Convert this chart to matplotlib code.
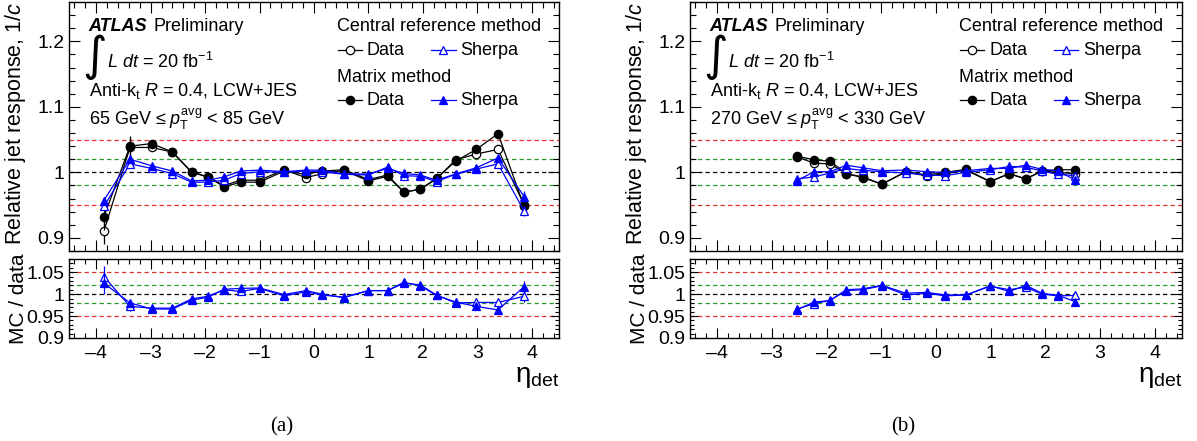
import numpy as np
import matplotlib
matplotlib.use('Agg')
import matplotlib.pyplot as plt
from matplotlib.ticker import MultipleLocator, FixedLocator, FuncFormatter

plt.rcParams['font.family'] = ['Liberation Sans', 'DejaVu Sans']
plt.rcParams['mathtext.fontset'] = 'custom'
plt.rcParams['mathtext.rm'] = 'Liberation Sans'
plt.rcParams['mathtext.it'] = 'Liberation Sans:italic'
plt.rcParams['mathtext.bf'] = 'Liberation Sans:bold'

# ---------------- data: panel (a) 65-85 GeV ----------------
eta_a = [-3.86, -3.38, -2.98, -2.60, -2.25, -1.95, -1.65, -1.35, -1.00, -0.55, -0.15,
         0.15, 0.55, 1.00, 1.35, 1.65, 1.95, 2.25, 2.60, 2.98, 3.38, 3.86]
data_mm_a = [0.932, 1.040, 1.044, 1.031, 1.001, 0.993, 0.978, 0.985, 0.985, 1.002, 0.997,
             1.002, 1.004, 0.989, 0.996, 0.970, 0.974, 0.991, 1.017, 1.035, 1.059, 0.948]
data_cr_a = [0.910, 1.038, 1.038, 1.031, 1.000, 0.993, 0.980, 0.988, 0.988, 1.004, 0.992,
             0.998, 1.003, 0.987, 0.994, 0.970, 0.974, 0.990, 1.019, 1.028, 1.035, 0.950]
mc_mm_a = [0.957, 1.020, 1.010, 1.002, 0.987, 0.988, 0.993, 1.002, 1.0035, 1.001, 1.0035,
           1.0035, 0.9975, 0.9975, 1.006, 0.9985, 0.996, 0.988, 0.9975, 1.007, 1.022, 0.963]
mc_cr_a = [0.948, 1.013, 1.006, 0.998, 0.985, 0.985, 0.988, 0.998, 1.001, 1.000, 1.002,
           1.001, 0.997, 0.996, 1.008, 0.995, 0.994, 0.986, 0.997, 1.005, 1.013, 0.941]
ratio_mm_a = [1.025, 0.980, 0.966, 0.966, 0.986, 0.993, 1.011, 1.013, 1.014, 0.999, 1.008,
              1.000, 0.992, 1.008, 1.008, 1.027, 1.019, 0.997, 0.982, 0.972, 0.964, 1.017]
ratio_cr_a = [1.040, 0.972, 0.968, 0.968, 0.989, 0.995, 1.010, 1.006, 1.013, 0.996, 1.005,
              0.998, 0.993, 1.008, 1.008, 1.025, 1.021, 0.998, 0.980, 0.981, 0.981, 0.995]
data_err_a = [0.020, 0.015, 0.004, 0.003, 0.002, 0.002, 0.002, 0.002, 0.002, 0.002, 0.002,
              0.002, 0.002, 0.002, 0.002, 0.002, 0.002, 0.002, 0.003, 0.004, 0.006, 0.013]
mc_err_a = [0.006, 0.004, 0.003, 0.002, 0.002, 0.002, 0.002, 0.002, 0.002, 0.002, 0.002,
            0.002, 0.002, 0.002, 0.002, 0.002, 0.002, 0.002, 0.002, 0.003, 0.004, 0.008]
ratio_err_a = [0.025, 0.010, 0.004, 0.003, 0.002, 0.002, 0.002, 0.002, 0.002, 0.002, 0.002,
               0.002, 0.002, 0.002, 0.002, 0.002, 0.002, 0.002, 0.003, 0.004, 0.008, 0.014]

# ---------------- data: panel (b) 270-330 GeV ----------------
eta_b = [-2.55, -2.23, -1.94, -1.64, -1.34, -0.99, -0.55, -0.16,
         0.16, 0.55, 0.99, 1.34, 1.64, 1.94, 2.23, 2.55]
data_mm_b = [1.025, 1.019, 1.017, 0.998, 0.993, 0.982, 1.001, 0.996,
             1.000, 1.0045, 0.986, 0.998, 0.990, 1.002, 1.004, 1.004]
data_cr_b = [1.024, 1.014, 1.013, 0.998, 0.992, 0.982, 1.001, 0.994,
             0.998, 1.003, 0.986, 0.998, 0.990, 1.002, 1.000, 0.998]
mc_mm_b = [0.987, 1.001, 1.001, 1.011, 1.007, 1.0025, 1.0035, 1.001,
           1.000, 1.0025, 1.006, 1.006, 1.011, 1.0045, 1.0025, 0.988]
mc_cr_b = [0.990, 0.993, 0.999, 1.006, 1.003, 1.001, 0.999, 0.996,
           0.995, 1.000, 1.004, 1.009, 1.008, 1.002, 0.997, 0.995]
ratio_mm_b = [0.964, 0.982, 0.985, 1.010, 1.012, 1.020, 1.002, 1.004,
              0.998, 0.998, 1.019, 1.006, 1.020, 1.002, 0.997, 0.983]
ratio_cr_b = [0.966, 0.978, 0.986, 1.008, 1.010, 1.019, 0.998, 1.002,
              0.996, 0.998, 1.018, 1.010, 1.016, 1.000, 0.996, 0.997]

ref_lines = [1.05, 1.02, 1.0, 0.98, 0.95]
ref_colors = ['#e8302a', '#2e9a2e', 'black', '#2e9a2e', '#e8302a']

xticks = [-4, -3, -2, -1, 0, 1, 2, 3, 4]
main_yticks = [0.9, 1.0, 1.1, 1.2]
ratio_yticks = [0.9, 0.95, 1.0, 1.05]

BLUE = '#0000ff'
FS = 13
MS = 6.0

W, H = 1197, 441
fig = plt.figure(figsize=(W / 100, H / 100), dpi=100)


def fx(px):
    return px / W


def fy(py):
    return 1 - py / H


def style_axes(ax, major_len=7, minor_len=3.5):
    ax.tick_params(which='both', direction='in', top=True, right=True, labelsize=FS + 1, width=0.8)
    ax.tick_params(which='major', length=major_len)
    ax.tick_params(which='minor', length=minor_len)
    for s in ax.spines.values():
        s.set_linewidth(1.0)


gfmt = FuncFormatter(lambda v, p: ('%g' % v).replace('-', '\u2013'))


def draw_panel(left_px, width_px, eta, d_mm, d_cr, m_mm, m_cr, r_mm, r_cr, ptext,
               d_err=None, m_err=None, r_err=None, caption='(a)'):
    axm = fig.add_axes([fx(left_px), fy(251), fx(width_px), (251 - 2) / H])
    axr = fig.add_axes([fx(left_px), fy(338), fx(width_px), (338 - 259) / H])

    for v, c in zip(ref_lines, ref_colors):
        for ax in (axm, axr):
            ax.axhline(v, color=c, lw=0.9, ls=(0, (3.5, 2.5)), zorder=1)

    n = len(eta)
    if d_err is None:
        d_err = [0.002] * n
    if m_err is None:
        m_err = [0.002] * n
    if r_err is None:
        r_err = [0.002] * n

    kw = dict(lw=0.9, elinewidth=0.9, capsize=0, ms=MS, mew=0.9)
    axm.errorbar(eta, d_cr, yerr=d_err, fmt='-o', color='black', mfc='white', mec='black', zorder=3, **kw)
    axm.errorbar(eta, d_mm, yerr=d_err, fmt='-o', color='black', mfc='black', zorder=4, **kw)
    axm.errorbar(eta, m_cr, yerr=m_err, fmt='-^', color=BLUE, mfc='white', mec=BLUE, zorder=5, **kw)
    axm.errorbar(eta, m_mm, yerr=m_err, fmt='-^', color=BLUE, mfc=BLUE, zorder=6, **kw)

    axr.errorbar(eta, r_cr, yerr=r_err, fmt='-^', color=BLUE, mfc='white', mec=BLUE, zorder=5, **kw)
    axr.errorbar(eta, r_mm, yerr=r_err, fmt='-^', color=BLUE, mfc=BLUE, zorder=6, **kw)

    for ax in (axm, axr):
        ax.set_xlim(-4.5, 4.5)
        ax.xaxis.set_major_locator(FixedLocator(xticks))
        ax.xaxis.set_minor_locator(MultipleLocator(0.2))

    axm.set_ylim(0.88, 1.26)
    axm.yaxis.set_major_locator(FixedLocator(main_yticks))
    axm.yaxis.set_minor_locator(MultipleLocator(0.02))
    axm.yaxis.set_major_formatter(gfmt)
    axm.set_xticklabels([])
    style_axes(axm, 8, 4)

    axr.set_ylim(0.9, 1.08)
    axr.yaxis.set_major_locator(FixedLocator(ratio_yticks))
    axr.yaxis.set_minor_locator(MultipleLocator(0.01))
    axr.yaxis.set_major_formatter(gfmt)
    axr.xaxis.set_major_formatter(gfmt)
    style_axes(axr, 7, 3.5)
    axr.tick_params(axis='y', which='major', length=6)
    axr.tick_params(axis='y', which='minor', length=3)
    axr.tick_params(axis='x', pad=5)

    axm.set_ylabel('Relative jet response, 1/$c$', fontsize=15.5, loc='top')
    axm.yaxis.set_label_coords((28 - 69) / 490, 1.0)
    axr.set_ylabel('MC / data', fontsize=15)
    axr.yaxis.set_label_coords((28 - 69) / 490, 0.5)
    axr.set_xlabel(r'$\mathrm{\eta}_{\mathrm{det}}$', fontsize=20, loc='right')
    axr.xaxis.set_label_coords(1.0, -0.33)

    # annotation text
    t = axm.transAxes
    axm.text(0.040, 0.900, 'ATLAS', transform=t, fontsize=FS, fontweight='bold',
             fontstyle='italic', va='center', ha='left')
    axm.text(0.172, 0.900, 'Preliminary', transform=t, fontsize=FS, va='center', ha='left')
    axm.text(0.028, 0.780, '\u222b', transform=t, fontsize=34, va='center', ha='left',
             family='DejaVu Sans')
    axm.text(0.078, 0.760, r'$L\ dt$ = 20 fb$^{-1}$', transform=t, fontsize=FS, va='center', ha='left')
    axm.text(0.040, 0.643, r'Anti-k$_{\mathrm{t}}$ $R$ = 0.4, LCW+JES', transform=t, fontsize=FS,
             va='center', ha='left')
    axm.text(0.040, 0.530, ptext, transform=t, fontsize=FS, va='center', ha='left')

    # legend (manual)
    axm.text(0.547, 0.900, 'Central reference method', transform=t, fontsize=FS, va='center', ha='left')
    axm.text(0.547, 0.696, 'Matrix method', transform=t, fontsize=FS, va='center', ha='left')
    rows = [(0.807, 'white', 'white'), (0.606, 'black', BLUE)]
    for yrow, fc_d, fc_m in rows:
        axm.plot([0.548, 0.598], [yrow, yrow], transform=t, color='black', lw=0.9,
                 marker='None', clip_on=False)
        axm.plot([0.573], [yrow], transform=t, color='black', marker='o', ms=MS, mew=0.9,
                 mfc=fc_d, mec='black', clip_on=False)
        axm.text(0.608, yrow, 'Data', transform=t, fontsize=FS, va='center', ha='left')
        axm.plot([0.739, 0.789], [yrow, yrow], transform=t, color=BLUE, lw=0.9,
                 marker='None', clip_on=False)
        axm.plot([0.764], [yrow], transform=t, color=BLUE, marker='^', ms=MS, mew=0.9,
                 mfc=fc_m, mec=BLUE, clip_on=False)
        axm.text(0.799, yrow, 'Sherpa', transform=t, fontsize=FS, va='center', ha='left')

    fig.text(fx(left_px + 213), fy(427), caption, ha='center', va='center',
             family='Liberation Serif', fontsize=FS + 2)
    return axm, axr


draw_panel(69, 490, eta_a, data_mm_a, data_cr_a, mc_mm_a, mc_cr_a, ratio_mm_a, ratio_cr_a,
           '65 GeV \u2264 $p_{\\mathrm{T}}^{\\mathrm{avg}}$ < 85 GeV',
           d_err=data_err_a, m_err=mc_err_a, r_err=ratio_err_a, caption='(a)')
draw_panel(690, 492, eta_b, data_mm_b, data_cr_b, mc_mm_b, mc_cr_b, ratio_mm_b, ratio_cr_b,
           '270 GeV \u2264 $p_{\\mathrm{T}}^{\\mathrm{avg}}$ < 330 GeV', caption='(b)')

fig.savefig('out.png', dpi=100)
